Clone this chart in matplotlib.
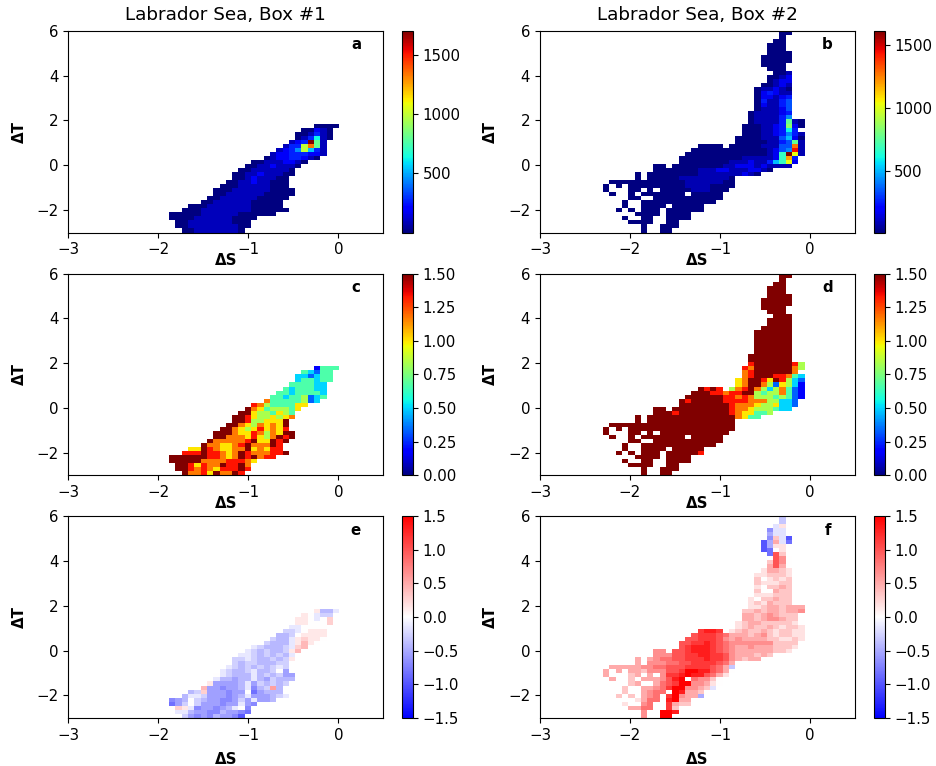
import numpy as np
import matplotlib
matplotlib.use('Agg')
import matplotlib.pyplot as plt

# bin edges of the 50 x 50 census grid
S_EDGES = np.linspace(-3, 0.5, 51)
T_EDGES = np.linspace(-3, 6, 51)

# rows run from the top filled T bin downwards, each one starts at the S bin
# given in *_START. One character per cell, '.' is an empty cell.
# 0-9 and A-J are levels 0..19, a-i are levels -1..-9
BOX1_TOP = 26
BOX1_START = [39, 37, 36, 36, 35, 34, 33, 32, 31, 29, 28, 27, 26, 26, 25, 24, 23, 23, 22, 21, 19, 18, 16, 16, 17, 17, 18]
BOX2_TOP = 49
BOX2_START = [38, 38, 37, 36, 36, 36, 35, 35, 35, 36, 37, 36, 36, 35, 34, 34, 34, 34, 34, 34, 33, 33, 33, 32, 32, 32,
              31, 31, 25, 24, 23, 22, 22, 18, 18, 15, 15, 11, 10, 10, 11, 14, 13, 13, 12, 15, 13, 14, 16, 16]

PANEL_A = ["0000", "00210", "001310", "013710", "123J91", "133BF91", "1235B631", "122333221", "012233210",
           "001112210", "001121110", "001111110", "0011211100", "001211100", "0011211000", "00011111000",
           "0001111110000", "0011111100000", "0011111100000", "0011111100000", "000111111100000",
           "00011111111000000", "00000111111000000", "00001111110000", "001111111000", "001111111100",
           "0011111110"]
PANEL_C = ["1444", "43244", "332344", "344344", "444433", "4344433", "44344443", "443445234", "744444523",
           "875444466", "976455546", "996554654", "9986556567", "998556669", "9976576769", "99765686768",
           "9997668757699", "9977768657989", "9777778966989", "9776678977798", "669876677967688",
           "88898876798777889", "99999988767989788", "99999777788876", "998687798897", "998787688898",
           "9778697798"]
PANEL_E = ["1cca", "10abb", "110a02", "110002", "aa0000", "bba0111", "ccb01111", "bcca12110", "bccca1310",
           "abcccba23", "abcbccb13", "aabcbcbca", "bbabccbcb1", "bcbbcccbb", "abcbcbcbab", "abccbaccb0d",
           "0abcccacbcbdd", "accdccacdbccc", "1ddddcadbcbcb", "3ddeddcaecb4c", "cb2dddedd0fdccc",
           "caabdddedcadddcba", "edc0bcddeedbdaddc", "fdb0bdddeddade", "21aeddedca0e", "aacddeecddef",
           "bdedecddeg"]

PANEL_B = ["00", "0", "00", "000", "000", "0000", "00000", "00000", "0000", "000", "001", "0012", "0122", "00121",
           "011210", "023211", "022123", "031134", "021134", "011124", "0111123", "0111135", "011113910",
           "0001123A20", "000112373", "0001123531", "00001114620", "00000113491", "0000.0000011144F1",
           "0000000000001245H1", "0000000000000128JC1", "00000000001111128E3", "00000000111211368C2",
           "00.0000000011222121111", "0000000111221112210", "0.000000001111111210", "0.00000111111110",
           "00000000000011111100", "0.0.00000000011110000", "0...00.0.00000111000", "0..0.0000000.00000",
           "00..00000000000", "0..000000000000", "0..0000.00000", "0.0.000.000000", "0000.0000", "0..00..0000",
           "0000..00", "0..000", "0..00"]
PANEL_D = ["99", "9", "99", "999", "999", "9999", "99999", "99999", "9999", "999", "999", "9999", "9999", "99999",
           "999999", "999999", "999999", "999999", "999999", "999999", "9999999", "9999999", "899999985",
           "8799999975", "789999997", "7899988743", "67998698532", "67997526531", "9898.578975357421",
           "999887889954557421", "9999998878755545421", "9899999888877755332", "9999999987776556332",
           "99.9999999998776555433", "9998999999998766445", "9.999999999999997644", "9.99999999999999",
           "99999999999999999999", "9.9.99999999999999999", "9...99.9.99999999999", "9..9.9999999.99999",
           "99..99999999999", "9..999999999999", "9..9999.99999", "9.9.999.999998", "9999.9999", "9..99..9999",
           "9999..99", "9..999", "9..99"]
PANEL_F = ["b0", "b", "a1", "daa", "caa", "d2af", "fc3ae", "fc110", "fe01", "e62", "640", "2640", "3630", "13321",
           "112221", "201212", "211122", "102232", "200322", "111222", "1022322", "1213222", "112332333",
           "2232332334", "332343222", "3323443220", "12332222210", "12322321221", "7887.123223212211",
           "677765333234212211", "6677764343333221121", "6677876544444442222", "6788876543343332221",
           "44.6678887654333333221", "4446677887764333232", "3.345566777877643233", "3.44455667777653",
           "3333344556667777653b", "3.3.33244466799886530", "3...23.3.47789886531", "3..2.3334689.54420",
           "23..35679944310", "2..33457994432a", "2..3455.98332", "2.2.345.79433c", "1355.8933", "1..45..7322",
           "3355..72", "4..998", "4..99"]

# what one level is worth in each panel
STEP_A, STEP_B = 90.0, 85.0
STEP_JET = 1.5 / 9
STEP_E = 0.14
STEP_F = 1.5 / 9

CB_TICKS_A = [500, 1000, 1500]
CB_TICKS_JET = [0, 0.25, 0.5, 0.75, 1.0, 1.25, 1.5]
CB_TICKS_BWR = [-1.5, -1.0, -0.5, 0, 0.5, 1.0, 1.5]
X_TICKS = [-3, -2, -1, 0]
Y_TICKS = [-2, 0, 2, 4, 6]
TITLES = ['Labrador Sea, Box #1', 'Labrador Sea, Box #2']


def decode(ch):
    if ch.isdigit():
        return int(ch)
    if ch.isupper():
        return 10 + ord(ch) - ord('A')
    return -(1 + ord(ch) - ord('a'))


def to_grid(rows, starts, top, step):
    grid = np.full((50, 50), np.nan)
    for k, row in enumerate(rows):
        for i, ch in enumerate(row):
            if ch != '.':
                grid[top - k, starts[k] + i] = decode(ch) * step
    return grid


def px_axes(fig, x0, y0, w, h):
    return fig.add_axes([x0 / 936, 1 - (y0 + h) / 766, w / 936, h / 766])


plt.rcParams['font.size'] = 10.8
fig = plt.figure(figsize=(9.36, 7.66), dpi=100)

panels = [
    (PANEL_A, BOX1_START, BOX1_TOP, STEP_A, 'jet', 0, 1705, CB_TICKS_A, 'a', 0, 0),
    (PANEL_B, BOX2_START, BOX2_TOP, STEP_B, 'jet', 13, 1613, CB_TICKS_A, 'b', 0, 1),
    (PANEL_C, BOX1_START, BOX1_TOP, STEP_JET, 'jet', 0, 1.5, CB_TICKS_JET, 'c', 1, 0),
    (PANEL_D, BOX2_START, BOX2_TOP, STEP_JET, 'jet', 0, 1.5, CB_TICKS_JET, 'd', 1, 1),
    (PANEL_E, BOX1_START, BOX1_TOP, STEP_E, 'bwr', -1.5, 1.5, CB_TICKS_BWR, 'e', 2, 0),
    (PANEL_F, BOX2_START, BOX2_TOP, STEP_F, 'bwr', -1.5, 1.5, CB_TICKS_BWR, 'f', 2, 1),
]
row_top = [30.7, 273.5, 516]
col_left = [68.3, 540]
cb_left = [402, 873.5]

for rows, starts, top, step, cmap, vmin, vmax, cb_ticks, tag, r, c in panels:
    ax = px_axes(fig, col_left[c], row_top[r], 315, 201.8)
    grid = to_grid(rows, starts, top, step)
    mesh = ax.pcolormesh(S_EDGES, T_EDGES, grid, cmap=cmap, vmin=vmin, vmax=vmax, antialiased=False)
    ax.set_xlim(-3, 0.5)
    ax.set_ylim(-3, 6)
    ax.set_xticks(X_TICKS)
    ax.set_yticks(Y_TICKS)
    ax.set_xlabel('ΔS', fontweight='bold', labelpad=7 if r == 2 else -3)
    ax.set_ylabel('ΔT', fontweight='bold', labelpad=7)
    ax.text(0.913, 0.93, tag, transform=ax.transAxes, fontweight='bold', ha='center', va='center')
    if r == 0:
        ax.set_title(TITLES[c], fontsize=13.2, pad=8)
    cax = px_axes(fig, cb_left[c], row_top[r], 11, 201.8)
    cb = fig.colorbar(mesh, cax=cax)
    cb.set_ticks(cb_ticks)
    if cmap == 'jet' and vmax == 1.5:
        cb.ax.set_yticklabels(['%.2f' % t for t in cb_ticks])

fig.savefig('out.png', dpi=100)
plt.close()
